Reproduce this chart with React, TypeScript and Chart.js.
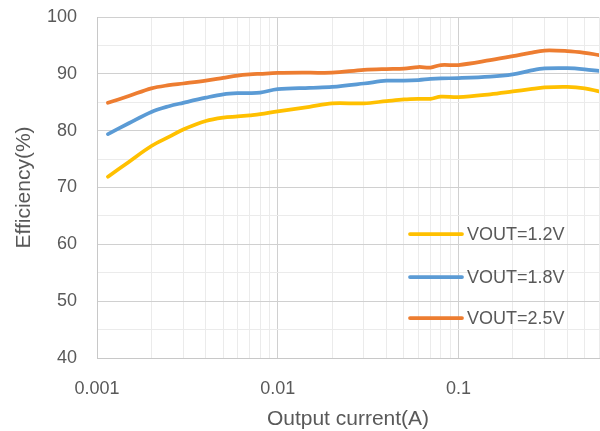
import React, { useEffect, useRef } from "react";
import { Chart, registerables } from "chart.js";

Chart.register(...registerables);

// Output current (A)
const currents = [
  0.00115, 0.0015, 0.002, 0.0025, 0.003, 0.004, 0.005, 0.006, 0.007, 0.008,
  0.01, 0.015, 0.02, 0.03, 0.04, 0.05, 0.06, 0.07, 0.08, 0.1, 0.15, 0.2, 0.25, 0.3,
  0.4, 0.5, 0.6,
];
// Efficiency (%)
const vout12 = [
  71.9, 74.5, 77.3, 78.9, 80.2, 81.7, 82.3, 82.5, 82.7, 82.9,
  83.4, 84.2, 84.8, 84.8, 85.2, 85.5, 85.6, 85.6, 86.0, 85.9, 86.4, 86.9, 87.3, 87.6,
  87.7, 87.45, 86.9,
];
const vout18 = [
  79.4, 81.3, 83.3, 84.3, 84.9, 85.8, 86.4, 86.6, 86.6, 86.7,
  87.3, 87.55, 87.7, 88.3, 88.8, 88.8, 88.9, 89.1, 89.2, 89.25, 89.5, 89.9, 90.55, 90.95,
  91.0, 90.8, 90.5,
];
const vout25 = [
  84.9, 86.1, 87.45, 88.0, 88.3, 88.8, 89.3, 89.7, 89.9, 90.0,
  90.15, 90.2, 90.2, 90.7, 90.85, 90.9, 91.2, 91.1, 91.55, 91.55, 92.4, 93.1, 93.7, 94.1,
  94.0, 93.7, 93.3,
];
const seriesLabels = ["VOUT=1.2V", "VOUT=1.8V", "VOUT=2.5V"];
const seriesValues = [vout12, vout18, vout25];
const seriesColors = ["#FFC000", "#5B9BD5", "#ED7D31"];
const xMin = 0.001;
const xMax = 0.6;
const yMin = 40;
const yMax = 100;

const FONT = "'Liberation Sans', Arial, sans-serif";
const TEXT = "#595959";

const isPow10 = (v: number) => {
  const l = Math.log10(v);
  return Math.abs(l - Math.round(l)) < 1e-9;
};

const insideLegend = {
  id: "insideLegend",
  afterDraw(chart: any) {
    const ctx = chart.ctx;
    const ca = chart.chartArea;
    const x0 = ca.right - 189;
    const x1 = ca.right - 137;
    const ys = [ca.top + 217, ca.top + 260, ca.top + 301];
    ctx.save();
    ctx.font = `18px ${FONT}`;
    ctx.textBaseline = "middle";
    ctx.textAlign = "left";
    chart.data.datasets.forEach((ds: any, i: number) => {
      ctx.strokeStyle = ds.borderColor;
      ctx.lineWidth = 3.75;
      ctx.lineCap = "round";
      ctx.beginPath();
      ctx.moveTo(x0, ys[i]);
      ctx.lineTo(x1, ys[i]);
      ctx.stroke();
      ctx.fillStyle = TEXT;
      ctx.fillText(ds.label, x1 + 5, ys[i] + 1);
    });
    ctx.restore();
  },
};

export default function App() {
  const ref = useRef<HTMLCanvasElement | null>(null);
  useEffect(() => {
    document.body.style.margin = "0";
    const canvas = ref.current;
    if (!canvas) return;
    const chart = new Chart(canvas, {
      type: "line",
      data: {
        datasets: seriesValues.map((vals, i) => ({
          label: seriesLabels[i],
          data: vals.map((y, j) => ({ x: currents[j], y })),
          borderColor: seriesColors[i],
          backgroundColor: seriesColors[i],
          borderWidth: 3.75,
          pointRadius: 0,
          tension: 0.35,
          borderCapStyle: "round",
          borderJoinStyle: "round",
          fill: false,
        })),
      },
      options: {
        animation: false,
        responsive: true,
        maintainAspectRatio: false,
        layout: { padding: { top: 17, right: 1, left: 0, bottom: 0 } },
        plugins: { legend: { display: false }, tooltip: { enabled: false } },
        scales: {
          x: {
            type: "logarithmic",
            min: xMin,
            max: xMax,
            afterBuildTicks: (scale: any) => {
              const t: any[] = [];
              for (let e = -3; e <= 0; e++) {
                for (let m = 1; m <= 9; m++) {
                  const v = parseFloat((m * Math.pow(10, e)).toPrecision(6));
                  if (v >= xMin - 1e-12 && v <= xMax + 1e-12) t.push({ value: v, major: m === 1 });
                }
              }
              scale.ticks = t;
            },
            afterFit: (scale: any) => {
              scale.height = 73;
              scale.paddingLeft = 0;
              scale.paddingRight = 0;
            },
            ticks: {
              autoSkip: false,
              maxRotation: 0,
              minRotation: 0,
              padding: 20,
              color: TEXT,
              font: { family: FONT, size: 18 },
              callback: (v: any) => (isPow10(Number(v)) ? String(Number(Number(v).toPrecision(6))) : ""),
            },
            grid: {
              drawTicks: false,
              color: (c: any) => (c.tick && isPow10(c.tick.value) ? "#d0d0d0" : "#ebebeb"),
              lineWidth: 1,
            },
            border: { display: true, color: "#c8c8c8", width: 1 },
            title: {
              display: true,
              text: "Output current(A)",
              color: TEXT,
              font: { family: FONT, size: 21, lineHeight: 1 },
              padding: { top: 0, bottom: 1 },
            },
          },
          y: {
            min: yMin,
            max: yMax,
            afterFit: (scale: any) => {
              scale.width = 97;
              scale.paddingTop = 0;
              scale.paddingBottom = 0;
            },
            ticks: {
              stepSize: 5,
              padding: 20,
              color: TEXT,
              font: { family: FONT, size: 18 },
              callback: (v: any) => (Number(v) % 10 === 0 ? String(v) : ""),
            },
            grid: {
              drawTicks: false,
              color: (c: any) => (c.tick && c.tick.value % 10 === 0 ? "#d0d0d0" : "#ebebeb"),
              lineWidth: 1,
            },
            border: { display: true, color: "#c8c8c8", width: 1 },
            title: {
              display: true,
              text: "Efficiency(%)",
              color: TEXT,
              font: { family: FONT, size: 21, lineHeight: 1 },
              padding: { top: 14, bottom: 0 },
            },
          },
        },
      },
      plugins: [insideLegend],
    } as any);
    return () => chart.destroy();
  }, []);
  return (
    <div style={{ width: 600, height: 431, position: "relative", background: "#fff" }}>
      <canvas ref={ref} />
    </div>
  );
}
